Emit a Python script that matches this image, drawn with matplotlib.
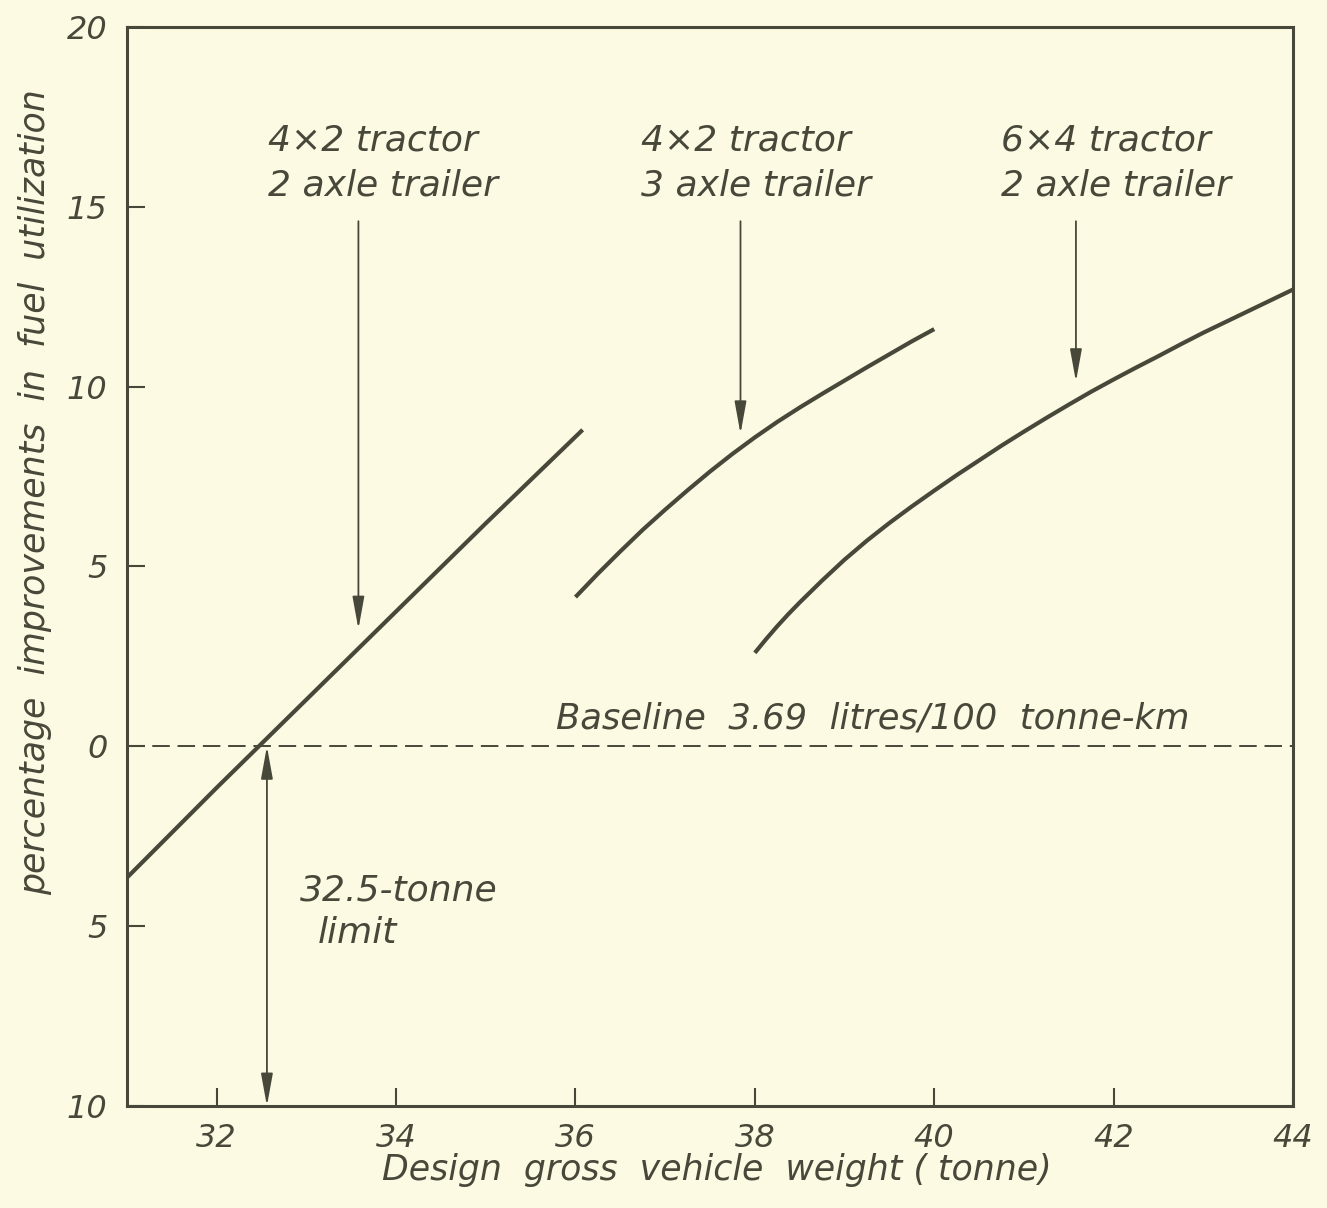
import matplotlib
matplotlib.use("Agg")
import matplotlib.pyplot as plt

plt.rcParams['font.family'] = ['DejaVu Sans']
plt.rcParams['font.style'] = 'italic'

# ---- data ----
x_4x2_2axle = [31.0, 32.0, 33.0, 34.0, 35.0, 36.08]
y_4x2_2axle = [-3.65, -1.15, 1.3, 3.75, 6.2, 8.8]

x_4x2_3axle = [36.0, 36.25, 36.5, 36.75, 37.0, 37.25, 37.5, 37.75, 38.0, 38.25,
               38.5, 38.75, 39.0, 39.25, 39.5, 39.75, 40.0]
y_4x2_3axle = [4.15, 4.8, 5.42, 6.02, 6.58, 7.12, 7.64, 8.13, 8.59, 9.02,
               9.42, 9.8, 10.17, 10.54, 10.9, 11.26, 11.6]

x_6x4_2axle = [38.0, 38.125, 38.25, 38.375, 38.5, 38.75, 39.0, 39.25, 39.5, 39.75, 40.0, 40.25,
               40.5, 40.75, 41.0, 41.25, 41.5, 41.75, 42.0, 42.25, 42.5, 42.75,
               43.0, 43.25, 43.5, 43.75, 44.0]
y_6x4_2axle = [2.6, 2.98, 3.34, 3.68, 4.0, 4.61, 5.19, 5.72, 6.21, 6.67, 7.11, 7.54,
               7.95, 8.36, 8.75, 9.13, 9.5, 9.86, 10.2, 10.53, 10.85, 11.18,
               11.5, 11.8, 12.1, 12.4, 12.7]

x_ticks = [32, 34, 36, 38, 40, 42, 44]
y_ticks = [20, 15, 10, 5, 0, -5, -10]
y_tick_labels = ['20', '15', '10', '5', '0', '5', '10']

baseline_value = 0
weight_limit = 32.56
labels = [("4×2 tractor", "2 axle trailer"),
          ("4×2 tractor", "3 axle trailer"),
          ("6×4 tractor", "2 axle trailer")]
arrow_x = [33.58, 37.84, 41.58]
arrow_tip_y = [3.26, 8.69, 10.14]

bg = '#fdfae3'
ink = '#48483a'

fig = plt.figure(figsize=(13.27, 12.08), dpi=100, facecolor=bg)
ax = fig.add_axes([127/1327, 1-1106/1208, (1293-127)/1327, (1106-27)/1208])
ax.set_facecolor(bg)

fs_tick = 23
fs_note = 26
fs_label = 25

for xs, ys in [(x_4x2_2axle, y_4x2_2axle), (x_4x2_3axle, y_4x2_3axle), (x_6x4_2axle, y_6x4_2axle)]:
    ax.plot(xs, ys, color=ink, lw=3.0, solid_capstyle='butt', solid_joinstyle='round')

ax.axhline(baseline_value, color=ink, lw=1.4, dashes=(9, 4))

ax.set_xlim(31, 44)
ax.set_ylim(-10, 20)
ax.set_xticks(x_ticks)
ax.set_yticks(y_ticks)
ax.set_yticklabels(y_tick_labels)
ax.tick_params(direction='in', length=13, width=1.5, color=ink, labelcolor=ink,
               labelsize=fs_tick)
ax.tick_params(axis='x', pad=12)
ax.tick_params(axis='y', pad=14)
for s in ax.spines.values():
    s.set_color(ink)
    s.set_linewidth(2.2)

# annotation arrows
for ax_x, tip in zip(arrow_x, arrow_tip_y):
    ax.annotate('', xy=(ax_x, tip), xytext=(ax_x, 14.6),
                arrowprops=dict(arrowstyle='-|>,head_length=1.1,head_width=0.2',
                                mutation_scale=18, color=ink, lw=1.3,
                                shrinkA=0, shrinkB=0))

text_pos = [(32.57, 16.85, 15.6), (36.73, 16.85, 15.6), (40.74, 16.85, 15.6)]
for (l1, l2), (tx, ty1, ty2) in zip(labels, text_pos):
    ax.text(tx, ty1, l1, ha='left', va='center', fontsize=fs_note, color=ink)
    ax.text(tx, ty2, l2, ha='left', va='center', fontsize=fs_note, color=ink)

ax.text(35.78, 0.78, 'Baseline  3.69  litres/100  tonne-km', ha='left', va='center',
        fontsize=25.5, color=ink)

# 32.5-tonne limit double arrow
ax.annotate('', xy=(weight_limit, baseline_value), xytext=(weight_limit, -10),
            arrowprops=dict(arrowstyle='<|-|>,head_length=1.1,head_width=0.2',
                            mutation_scale=18, color=ink, lw=1.3,
                            shrinkA=0, shrinkB=0))
ax.text(32.93, -4.0, '32.5-tonne', ha='left', va='center', fontsize=fs_note, color=ink)
ax.text(33.13, -5.18, 'limit', ha='left', va='center', fontsize=fs_note, color=ink)

fig.text(35/1327, 1-492/1208, 'percentage  improvements  in  fuel  utilization',
         rotation=90, ha='center', va='center', fontsize=fs_label, color=ink)
fig.text(717/1327, 1-1170/1208, 'Design  gross  vehicle  weight ( tonne)',
         ha='center', va='center', fontsize=fs_label, color=ink)

fig.savefig('out.png', dpi=100, facecolor=bg)
